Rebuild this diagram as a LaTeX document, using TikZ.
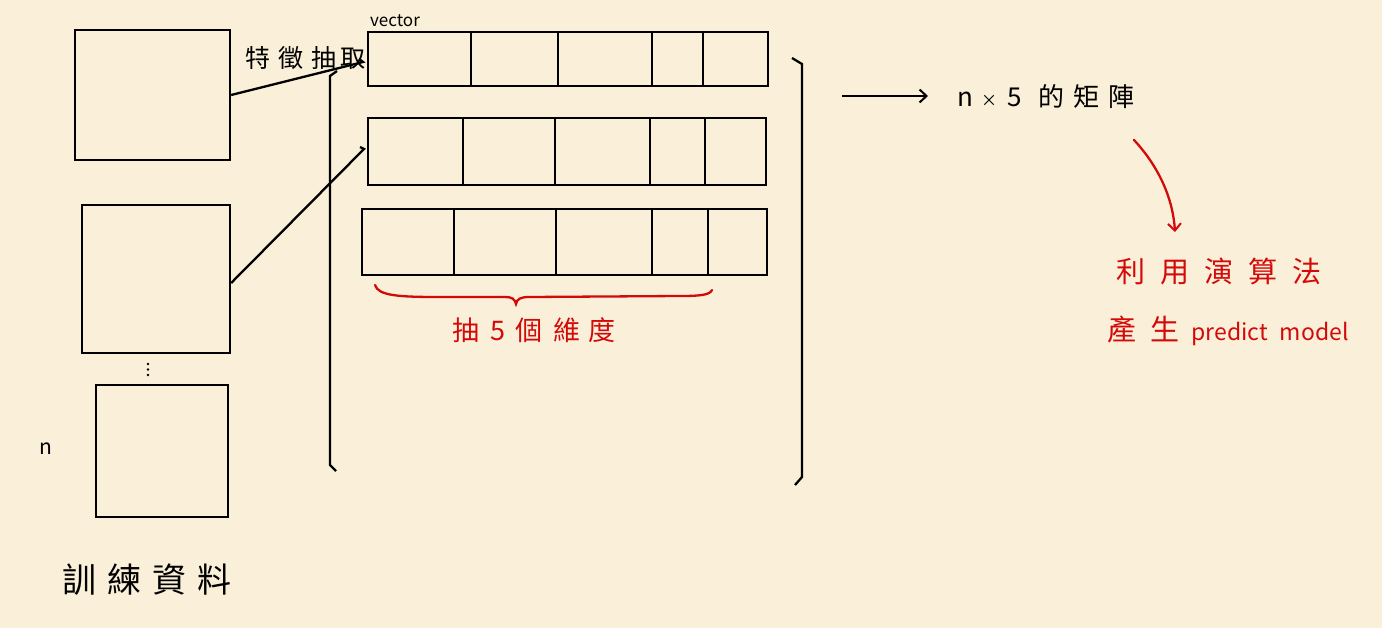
\documentclass[tikz,border=0pt]{standalone}
\usepackage{fontspec}
\setmainfont{Noto Sans CJK TC}
\usetikzlibrary{arrows.meta,calc}
\definecolor{bg}{RGB}{250,240,217}
\definecolor{hred}{RGB}{212,10,10}
\begin{document}
\begin{tikzpicture}[x=1pt,y=-1pt,
  ink/.style={line width=2.3pt,black},
  box/.style={draw,ink,inner sep=0pt},
  redink/.style={line width=2.3pt,hred},
  lbl/.style={inner sep=0pt,anchor=center},
  dot/.style={circle,fill=black,inner sep=0pt,minimum size=2.6pt},
  tip/.style={-{Straight Barb[length=7pt,width=13pt,line width=2pt]}}]
\useasboundingbox (0,0) rectangle (1382,628);
\fill[bg] (0,0) rectangle (1382,628);
% training images
\node[box,minimum width=155pt,minimum height=130pt] (b1) at (152.5,95) {};
\node[box,minimum width=148pt,minimum height=148pt] (b2) at (156,279) {};
\node[box,minimum width=132pt,minimum height=132pt] (b3) at (162,451) {};
\node[dot] (d1) at (148,364) {};
\node[dot] (d2) at (148,369.5) {};
\node[dot] (d3) at (148,375) {};
\node[lbl] (nlab) at (46,449) {\fontsize{21}{21}\selectfont n};
\node[lbl] (train) at (147,580) {\fontsize{34}{34}\selectfont 訓\hspace{11pt}練\hspace{11pt}資\hspace{11pt}料};
% vectors
\node[box,minimum width=400pt,minimum height=54pt] (v1) at (568,59) {};
\node[box,minimum width=398pt,minimum height=67pt] (v2) at (567,151.5) {};
\node[box,minimum width=405pt,minimum height=66pt] (v3) at (564.5,242) {};
\foreach \x in {471,558,652,703} \draw[ink] (\x,32) -- (\x,86);
\foreach \x in {463,555,650,705} \draw[ink] (\x,118) -- (\x,185);
\foreach \x in {454,556,652,708} \draw[ink] (\x,209) -- (\x,275);
\node[lbl] (vec) at (395,21) {\fontsize{17}{17}\selectfont vector};
\node[lbl] (feat) at (305,58) {\fontsize{25}{25}\selectfont 特\hspace{8pt}徵\hspace{8pt}抽\hspace{4pt}取};
% connectors
\coordinate (e1) at (363,62);
\coordinate (s2) at ($(b2.east)+(0,4)$);
\coordinate (e2) at (364,149);
\draw[ink] (b1.east) -- (e1) -- ++(-4,-3);
\draw[ink] (s2) -- (e2) -- ++(-4,-2);
% brackets
\draw[ink] (337,71) -- (330,76) -- (330,465) -- (336,471);
\draw[ink] (792,58) -- (802,64) -- (802,477) -- (795,485);
% arrow to matrix label
\coordinate (a1) at (842,96);
\node[lbl,anchor=west] (mat) at (957,97) {\fontsize{26}{26}\selectfont n\hspace{8pt}{\fontsize{16}{16}\selectfont ×}\hspace{10pt}5\hspace{17pt}的\hspace{9pt}矩\hspace{9pt}陣};
\draw[ink,tip] (a1) -- (928,96);
% red brace
\draw[redink,line cap=round] (375,285) .. controls (378,296) and (400,297) .. (440,297)
   -- (505,297) .. controls (512,297) and (515,299) .. (516,304)
   .. controls (517,299) and (520,297) .. (530,297) -- (680,296)
   .. controls (700,296) and (710,295) .. (712,290);
\node[lbl] (dim) at (534,330) {\color{hred}\fontsize{27}{27}\selectfont 抽\hspace{11pt}5\hspace{11pt}個\hspace{11pt}維\hspace{8pt}度};
% red arrow and labels
\node[lbl] (alg) at (1219,271) {\color{hred}\fontsize{29}{29}\selectfont 利\hspace{15pt}用\hspace{15pt}演\hspace{15pt}算\hspace{15pt}法};
\node[lbl] (gen) at (1228,331) {\color{hred}\fontsize{29}{29}\selectfont 產\hspace{14pt}生\hspace{12pt}{\fontsize{23}{23}\selectfont predict\hspace{12pt}model}};
\coordinate (r1) at (1134,140);
\draw[redink,line cap=round,tip] (r1) .. controls (1160,168) and (1173,200) .. (1175,232);
\end{tikzpicture}
\end{document}
